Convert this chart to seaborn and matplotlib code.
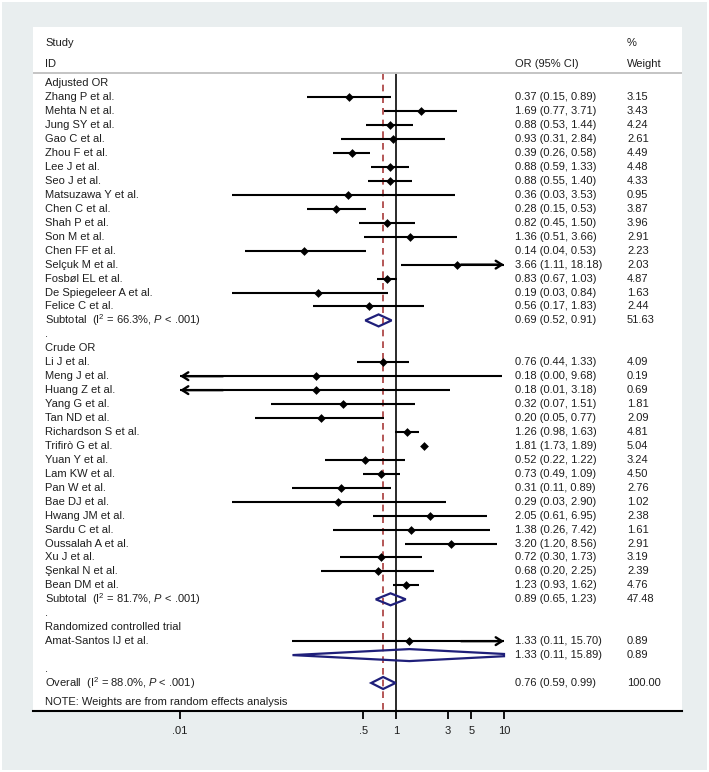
import numpy as np
import pandas as pd
import matplotlib
matplotlib.use("Agg")
import matplotlib.pyplot as plt
import matplotlib.transforms as mtransforms
from matplotlib.patches import Polygon
from matplotlib.ticker import NullLocator
import seaborn as sns

# ---------------- data ----------------
adj_studies = ["Zhang P et al.", "Mehta N et al.", "Jung SY et al.", "Gao C et al.",
               "Zhou F et al.", "Lee J et al.", "Seo J et al.", "Matsuzawa Y et al.",
               "Chen C et al.", "Shah P et al.", "Son M et al.", "Chen FF et al.",
               "Selçuk M et al.", "Fosbøl EL et al.", "De Spiegeleer A et al.", "Felice C et al."]
adj_or = [0.37, 1.69, 0.88, 0.93, 0.39, 0.88, 0.88, 0.36, 0.28, 0.82, 1.36, 0.14, 3.66, 0.83, 0.19, 0.56]
adj_lo = [0.15, 0.77, 0.53, 0.31, 0.26, 0.59, 0.55, 0.03, 0.15, 0.45, 0.51, 0.04, 1.11, 0.67, 0.03, 0.17]
adj_hi = [0.89, 3.71, 1.44, 2.84, 0.58, 1.33, 1.40, 3.53, 0.53, 1.50, 3.66, 0.53, 18.18, 1.03, 0.84, 1.83]
adj_w = [3.15, 3.43, 4.24, 2.61, 4.49, 4.48, 4.33, 0.95, 3.87, 3.96, 2.91, 2.23, 2.03, 4.87, 1.63, 2.44]
adj_sub = (0.69, 0.52, 0.91, 51.63)
adj_sub_label = "Subtotal  (I$^{2}$ = 66.3%, $\\mathit{P}$ < .001)"

crude_studies = ["Li J et al.", "Meng J et al.", "Huang Z et al.", "Yang G et al.", "Tan ND et al.",
                 "Richardson S et al.", "Trifirò G et al.", "Yuan Y et al.", "Lam KW et al.",
                 "Pan W et al.", "Bae DJ et al.", "Hwang JM et al.", "Sardu C et al.",
                 "Oussalah A et al.", "Xu J et al.", "Şenkal N et al.", "Bean DM et al."]
crude_or = [0.76, 0.18, 0.18, 0.32, 0.20, 1.26, 1.81, 0.52, 0.73, 0.31, 0.29, 2.05, 1.38, 3.20, 0.72, 0.68, 1.23]
crude_lo = [0.44, 0.00, 0.01, 0.07, 0.05, 0.98, 1.73, 0.22, 0.49, 0.11, 0.03, 0.61, 0.26, 1.20, 0.30, 0.20, 0.93]
crude_hi = [1.33, 9.68, 3.18, 1.51, 0.77, 1.63, 1.89, 1.22, 1.09, 0.89, 2.90, 6.95, 7.42, 8.56, 1.73, 2.25, 1.62]
crude_w = [4.09, 0.19, 0.69, 1.81, 2.09, 4.81, 5.04, 3.24, 4.50, 2.76, 1.02, 2.38, 1.61, 2.91, 3.19, 2.39, 4.76]
crude_sub = (0.89, 0.65, 1.23, 47.48)
crude_sub_label = "Subtotal  (I$^{2}$ = 81.7%, $\\mathit{P}$ < .001)"

rct_studies = ["Amat-Santos IJ et al."]
rct_or = [1.33]
rct_lo = [0.11]
rct_hi = [15.70]
rct_w = [0.89]
rct_sub = (1.33, 0.11, 15.89, 0.89)

overall = (0.76, 0.59, 0.99, 100.00)
overall_label = "Overall  (I$^{2}$ = 88.0%, $\\mathit{P}$ < .001)"

tick_vals = [0.01, 0.5, 1, 3, 5, 10]
tick_labels = [".01", ".5", "1", "3", "5", "10"]

# ---------------- build row table ----------------
rows = []  # (kind, label, or, lo, hi, w)
rows.append(("head", "Adjusted OR", None, None, None, None))
for s, o, l, h, w in zip(adj_studies, adj_or, adj_lo, adj_hi, adj_w):
    rows.append(("study", s, o, l, h, w))
rows.append(("sub", adj_sub_label) + adj_sub)
rows.append(("head", ".", None, None, None, None))
rows.append(("head", "Crude OR", None, None, None, None))
for s, o, l, h, w in zip(crude_studies, crude_or, crude_lo, crude_hi, crude_w):
    rows.append(("study", s, o, l, h, w))
rows.append(("sub", crude_sub_label) + crude_sub)
rows.append(("head", ".", None, None, None, None))
rows.append(("head", "Randomized controlled trial", None, None, None, None))
for s, o, l, h, w in zip(rct_studies, rct_or, rct_lo, rct_hi, rct_w):
    rows.append(("study", s, o, l, h, w))
rows.append(("sub", "") + rct_sub)
rows.append(("head", ".", None, None, None, None))
rows.append(("sub", overall_label) + overall)

df = pd.DataFrame(rows, columns=["kind", "label", "or", "lo", "hi", "w"])
df["row"] = np.arange(len(df))

# ---------------- style ----------------
sns.set_theme(style="white")
plt.rcParams["font.family"] = ["Liberation Sans", "DejaVu Sans"]
plt.rcParams["mathtext.fontset"] = "custom"
plt.rcParams["mathtext.rm"] = "Liberation Sans"
plt.rcParams["mathtext.it"] = "Liberation Sans:italic"
plt.rcParams["mathtext.bf"] = "Liberation Sans:bold"

FS = 8.0
TXT = "#1e1e1e"
NAVY = "#1f1f7a"

W, H = 709, 772
fig = plt.figure(figsize=(W / 100, H / 100), dpi=100)
fig.patch.set_facecolor("white")

# background panel
bg = fig.add_axes([2 / W, 2 / H, 705 / W, 768 / H])
bg.set_facecolor("#e9eeef")
bg.set_xticks([])
bg.set_yticks([])
for s in bg.spines.values():
    s.set_visible(False)
bg.set_zorder(0)

ax_l, ax_r, ax_t, ax_b = 33, 682, 27, 711
ax = fig.add_axes([ax_l / W, (H - ax_b) / H, (ax_r - ax_l) / W, (ax_b - ax_t) / H])
ax.set_zorder(1)
ax.set_facecolor("white")

# mapping rows: row0 at 83.35 px, 13.945 px per row
r0, dr = 83.35, 13.945
def prow(p):
    return (p - r0) / dr

x_one, dec = 396.0, 108.0
xmin = 10 ** ((ax_l - x_one) / dec)
xmax = 10 ** ((ax_r - x_one) / dec)
ax.set_xscale("log")

LOW, HIGH = 0.01, 10.0
ARROW = "->,head_length=0.55,head_width=0.35"

# CI lines + arrows
st = df[df["kind"] == "study"].copy()
for _, r in st.iterrows():
    lo_c = max(r["lo"], LOW)
    hi_c = min(r["hi"], HIGH)
    ax.hlines(r["row"], lo_c, hi_c, color="black", lw=1.5, zorder=2)
    if r["lo"] <= LOW:
        ax.annotate("", xy=(LOW, r["row"]), xytext=(LOW * 2.5, r["row"]),
                    arrowprops=dict(arrowstyle=ARROW, color="black", lw=1.7,
                                    shrinkA=0, shrinkB=0, mutation_scale=8), zorder=2)
    if r["hi"] > HIGH:
        ax.annotate("", xy=(HIGH, r["row"]), xytext=(HIGH / 2.5, r["row"]),
                    arrowprops=dict(arrowstyle=ARROW, color="black", lw=1.7,
                                    shrinkA=0, shrinkB=0, mutation_scale=8), zorder=2)

sns.scatterplot(data=st, x="or", y="row", marker="D", color="black", s=20,
                linewidth=0, legend=False, ax=ax, zorder=3)

# pooled diamonds
hh = 0.43
for _, r in df[df["kind"] == "sub"].iterrows():
    y = r["row"]
    lo, est, hi = np.log10(r["lo"]), np.log10(r["or"]), np.log10(r["hi"])
    lo_c, hi_c = max(lo, np.log10(LOW)), min(hi, np.log10(HIGH))
    def hgt(xv):
        if xv <= est:
            return hh * (xv - lo) / (est - lo)
        return hh * (hi - xv) / (hi - est)
    pts = [(lo_c, y - hgt(lo_c)), (est, y - hh), (hi_c, y - hgt(hi_c)),
           (hi_c, y + hgt(hi_c)), (est, y + hh), (lo_c, y + hgt(lo_c))]
    pts = [(10 ** px, py) for px, py in pts]
    ax.add_patch(Polygon(pts, closed=True, facecolor="none", edgecolor=NAVY, lw=1.6, zorder=4))

ax.set_xlim(xmin, xmax)
ax.set_ylim(prow(ax_b), prow(ax_t))

# reference lines
y_hdr = prow(72.7)
ax.vlines(1.0, y_hdr, prow(ax_b), color="#2a2a2a", lw=1.4, zorder=1)
ax.vlines(overall[0], y_hdr, prow(ax_b), color="#a83a3a", lw=1.2,
          linestyles=(0, (4, 3)), zorder=1)
ax.axhline(y_hdr, color="#c4c4c4", lw=1.4, zorder=1)

# text columns
tr = mtransforms.blended_transform_factory(ax.transAxes, ax.transData)
fx = lambda p: (p - ax_l) / (ax_r - ax_l)
xs, xc, xw = fx(45), fx(515), fx(627)

ax.text(xs, prow(42.7), "Study", transform=tr, va="center", ha="left", fontsize=FS, color=TXT)
ax.text(xs, prow(64.3), "ID", transform=tr, va="center", ha="left", fontsize=FS, color=TXT)
ax.text(xc, prow(64.3), "OR (95% CI)", transform=tr, va="center", ha="left", fontsize=FS, color=TXT)
ax.text(xw, prow(42.7), "%", transform=tr, va="center", ha="left", fontsize=FS, color=TXT)
ax.text(xw, prow(64.3), "Weight", transform=tr, va="center", ha="left", fontsize=FS, color=TXT)

for _, r in df.iterrows():
    if r["label"]:
        ax.text(xs, r["row"], r["label"], transform=tr, va="center", ha="left",
                fontsize=FS, color=TXT)
    if r["kind"] in ("study", "sub"):
        ax.text(xc, r["row"], f"{r['or']:.2f} ({r['lo']:.2f}, {r['hi']:.2f})",
                transform=tr, va="center", ha="left", fontsize=FS, color=TXT)
        ax.text(xw, r["row"], f"{r['w']:.2f}", transform=tr, va="center", ha="left",
                fontsize=FS, color=TXT)

ax.text(xs, prow(702), "NOTE: Weights are from random effects analysis", transform=tr,
        va="center", ha="left", fontsize=FS, color=TXT)

# axes styling
for side in ["top", "left", "right"]:
    ax.spines[side].set_visible(False)
ax.spines["bottom"].set_color("black")
ax.spines["bottom"].set_linewidth(1.5)
ax.set_xticks(tick_vals)
ax.set_xticklabels(tick_labels)
ax.xaxis.set_minor_locator(NullLocator())
ax.tick_params(axis="x", direction="out", length=6, width=1.3, pad=5,
               labelsize=FS, colors="black", labelcolor=TXT, bottom=True)
ax.set_yticks([])
ax.set_xlabel("")
ax.set_ylabel("")
ax.grid(False)

fig.savefig("out.png", dpi=100)
